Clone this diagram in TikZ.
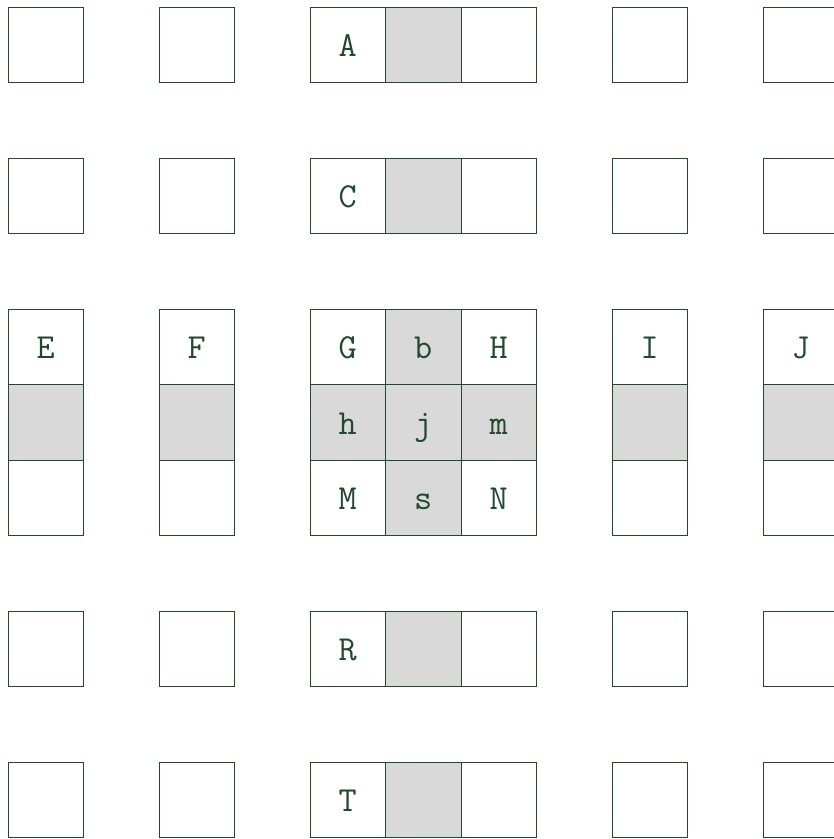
\documentclass[tikz,border=0pt]{standalone}
\usepackage{xcolor}
\usepackage{tikz}
\usetikzlibrary{positioning}
\definecolor{edge}{HTML}{1F4A2C}
\definecolor{greyfill}{HTML}{D9D9D9}

\begin{document}
\begin{tikzpicture}[
  x=1.51cm, y=-1.51cm,
  cell/.style={draw=edge, line width=0.5pt, fill=white, minimum size=1.51cm,
               inner sep=0pt, outer sep=0pt, text=edge,
               font=\ttfamily\fontsize{20}{24}\selectfont,
               text height=13.8pt, text depth=0pt},
  dim/.style={cell, fill=greyfill}
]
\useasboundingbox (-0.606,-0.593) rectangle (10.440,10.520);
% single boxes
\foreach \r in {0,2,8,10}
  \foreach \c in {0,2,8,10}
    \node[cell] (c\r-\c) at (\c,\r) {};
% horizontal triples
\foreach \r/\t in {0/A,2/C,8/R,10/T} {
  \node[cell] (c\r-4) at (4,\r) {\t};
  \node[dim, right=0pt of c\r-4] (c\r-5) {};
  \node[cell, right=0pt of c\r-5] (c\r-6) {};
}
% vertical triples
\foreach \c/\t in {0/E,2/F,8/I,10/J} {
  \node[cell] (c4-\c) at (\c,4) {\t};
  \node[dim, below=0pt of c4-\c] (c5-\c) {};
  \node[cell, below=0pt of c5-\c] (c6-\c) {};
}
% centre block
\node[cell] (c4-4) at (4,4) {G};
\node[dim, right=0pt of c4-4] (c4-5) {b};
\node[cell, right=0pt of c4-5] (c4-6) {H};
\node[dim, below=0pt of c4-4] (c5-4) {h};
\node[dim, right=0pt of c5-4] (c5-5) {j};
\node[dim, right=0pt of c5-5] (c5-6) {m};
\node[cell, below=0pt of c5-4] (c6-4) {M};
\node[dim, right=0pt of c6-4] (c6-5) {s};
\node[cell, right=0pt of c6-5] (c6-6) {N};
\end{tikzpicture}
\end{document}
